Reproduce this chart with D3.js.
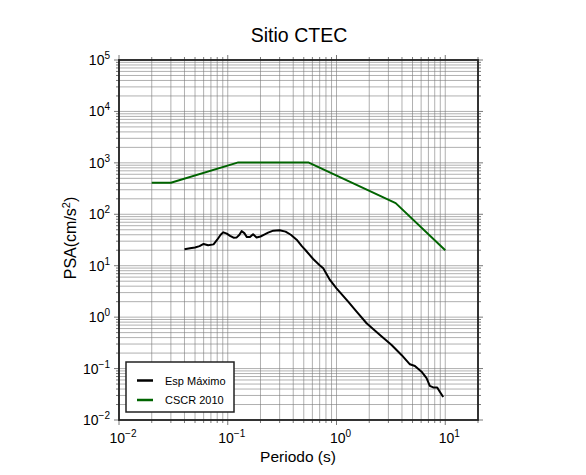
<!DOCTYPE html>
<html>
<head>
<meta charset="utf-8">
<script src="https://cdn.jsdelivr.net/npm/d3@7"></script>
<style>
  body { margin: 0; background: white; }
  svg { font-family: "Liberation Sans", Arial, sans-serif; }
</style>
</head>
<body>
<svg id="chart" width="586" height="475"></svg>
<script>
// Esp Máximo (black)
var esp_period = [0.040, 0.045, 0.050, 0.055, 0.060, 0.066, 0.074, 0.080, 0.086, 0.091,
    0.098, 0.105, 0.113, 0.121, 0.128, 0.134, 0.142, 0.150, 0.160, 0.171,
    0.184, 0.200, 0.212, 0.235, 0.262, 0.300, 0.340, 0.380, 0.430, 0.480,
    0.520, 0.610, 0.700, 0.755, 0.870, 1.00, 1.28, 1.53, 1.89, 2.51,
    3.21, 3.96, 4.73, 5.26, 6.05, 6.73, 7.21, 7.74, 8.43, 8.91, 9.57];
var esp_psa = [21.0, 21.8, 22.6, 24.0, 26.5, 25.0, 26.0, 32, 40, 44.5,
    42, 38, 35, 35.5, 40, 47, 43, 36, 36, 41,
    35.5, 37, 39.5, 44, 48, 49, 46, 40, 32, 24,
    20, 13.5, 10.2, 8.9, 5.3, 3.64, 2.0, 1.28, 0.76, 0.45,
    0.287, 0.184, 0.121, 0.112, 0.087, 0.065, 0.046, 0.043, 0.043, 0.0355, 0.028];

// CSCR 2010 (green)
var cscr_period = [0.02, 0.03, 0.125, 0.55, 3.5, 10];
var cscr_psa = [410, 410, 1020, 1020, 165, 20];

var x_decades = [-2, -1, 0, 1];
var y_decades = [-2, -1, 0, 1, 2, 3, 4, 5];

var series = [
    { "Name": "Esp Máximo", "Color": "black", "T": esp_period, "V": esp_psa },
    { "Name": "CSCR 2010", "Color": "#006400", "T": cscr_period, "V": cscr_psa }
];

const LEFT = 119, RIGHT = 478, TOP = 60, BOTTOM = 420;

var svg = d3.select("svg#chart");

var x = d3.scaleLog().domain([0.01, 20]).range([LEFT, RIGHT]);
var y = d3.scaleLog().domain([0.01, 1e5]).range([BOTTOM, TOP]);

// minor + major positions
function log_ticks(domain) {
    var out = [];
    var lo = Math.floor(Math.log10(domain[0])), hi = Math.ceil(Math.log10(domain[1]));
    for (var e = lo; e <= hi; e++) {
        for (var m = 1; m <= 9; m++) {
            var v = m * Math.pow(10, e);
            if (v >= domain[0] * 0.999 && v <= domain[1] * 1.001) out.push({ "v": v, "major": m == 1 });
        }
    }
    return out;
}
var x_ticks = log_ticks(x.domain());
var y_ticks = log_ticks(y.domain());

// grid
var grid = svg.append("g").attr("stroke", "#7a7a7a").attr("stroke-width", 0.6);
grid.selectAll("line.gx")
    .data(x_ticks)
    .join("line")
    .attr("class", "gx")
    .attr("x1", d => x(d.v)).attr("x2", d => x(d.v))
    .attr("y1", TOP).attr("y2", BOTTOM);
grid.selectAll("line.gy")
    .data(y_ticks)
    .join("line")
    .attr("class", "gy")
    .attr("y1", d => y(d.v)).attr("y2", d => y(d.v))
    .attr("x1", LEFT).attr("x2", RIGHT);

// outward ticks on all sides
var ticks = svg.append("g").attr("stroke", "#555").attr("stroke-width", 0.8);
ticks.selectAll("line.tb")
    .data(x_ticks)
    .join("line")
    .attr("class", "tb")
    .attr("x1", d => x(d.v)).attr("x2", d => x(d.v))
    .attr("y1", BOTTOM).attr("y2", d => BOTTOM + (d.major ? 5 : 3));
ticks.selectAll("line.tt")
    .data(x_ticks)
    .join("line")
    .attr("class", "tt")
    .attr("x1", d => x(d.v)).attr("x2", d => x(d.v))
    .attr("y1", TOP).attr("y2", d => TOP - (d.major ? 5 : 3));
ticks.selectAll("line.tl")
    .data(y_ticks)
    .join("line")
    .attr("class", "tl")
    .attr("y1", d => y(d.v)).attr("y2", d => y(d.v))
    .attr("x1", LEFT).attr("x2", d => LEFT - (d.major ? 5 : 3));
ticks.selectAll("line.tr")
    .data(y_ticks)
    .join("line")
    .attr("class", "tr")
    .attr("y1", d => y(d.v)).attr("y2", d => y(d.v))
    .attr("x1", RIGHT).attr("x2", d => RIGHT + (d.major ? 5 : 3));

// curves
var line = d3.line()
    .x(d => x(d[0]))
    .y(d => y(d[1]));

svg.append("g").selectAll("path")
    .data(series)
    .join("path")
    .attr("fill", "none")
    .attr("stroke", d => d.Color)
    .attr("stroke-width", 2)
    .attr("stroke-linejoin", "round")
    .attr("d", d => line(d.T.map((t, i) => [t, d.V[i]])));

// frame
svg.append("rect")
    .attr("x", LEFT).attr("y", TOP)
    .attr("width", RIGHT - LEFT).attr("height", BOTTOM - TOP)
    .attr("fill", "none")
    .attr("stroke", "#222")
    .attr("stroke-width", 1.8);

// tick labels
function power_label(sel, exp) {
    sel.append("tspan").text("10");
    sel.append("tspan")
        .attr("dy", -6)
        .attr("font-size", 10)
        .text(exp < 0 ? "\u2212" + Math.abs(exp) : exp);
}

svg.append("g").selectAll("text")
    .data(y_decades)
    .join("text")
    .attr("x", 110)
    .attr("y", d => y(Math.pow(10, d)) + 5)
    .attr("text-anchor", "end")
    .attr("font-size", 14)
    .each(function(d) { power_label(d3.select(this), d); });

svg.append("g").selectAll("text")
    .data(x_decades)
    .join("text")
    .attr("x", d => x(Math.pow(10, d)) + 4)
    .attr("y", 443)
    .attr("text-anchor", "middle")
    .attr("font-size", 14)
    .each(function(d) { power_label(d3.select(this), d); });

// title & axis labels
svg.append("text")
    .attr("x", 299)
    .attr("y", 42)
    .attr("text-anchor", "middle")
    .attr("font-size", 19.5)
    .text("Sitio CTEC");

svg.append("text")
    .attr("x", 298)
    .attr("y", 462)
    .attr("text-anchor", "middle")
    .attr("font-size", 15.5)
    .text("Periodo (s)");

var ylab = svg.append("text")
    .attr("transform", "translate(76,238) rotate(-90)")
    .attr("text-anchor", "middle")
    .attr("font-size", 16);
ylab.append("tspan").text("PSA(cm/s");
ylab.append("tspan").attr("dy", -6).attr("font-size", 11).text("2");
ylab.append("tspan").attr("dy", 6).text(")");

// legend
var legend = svg.append("g").attr("transform", "translate(126,362)");
legend.append("rect")
    .attr("width", 108).attr("height", 50)
    .attr("fill", "white")
    .attr("stroke", "#222")
    .attr("stroke-width", 1.5);
var item = legend.selectAll("g.item")
    .data(series)
    .join("g")
    .attr("class", "item")
    .attr("transform", (d, i) => "translate(0," + (18.5 + i * 19.5) + ")");
item.append("line")
    .attr("x1", 11).attr("x2", 27)
    .attr("stroke", d => d.Color)
    .attr("stroke-width", 2.5);
item.append("text")
    .attr("x", 39)
    .attr("y", 4)
    .attr("font-size", 11)
    .text(d => d.Name);
</script>
</body>
</html>
